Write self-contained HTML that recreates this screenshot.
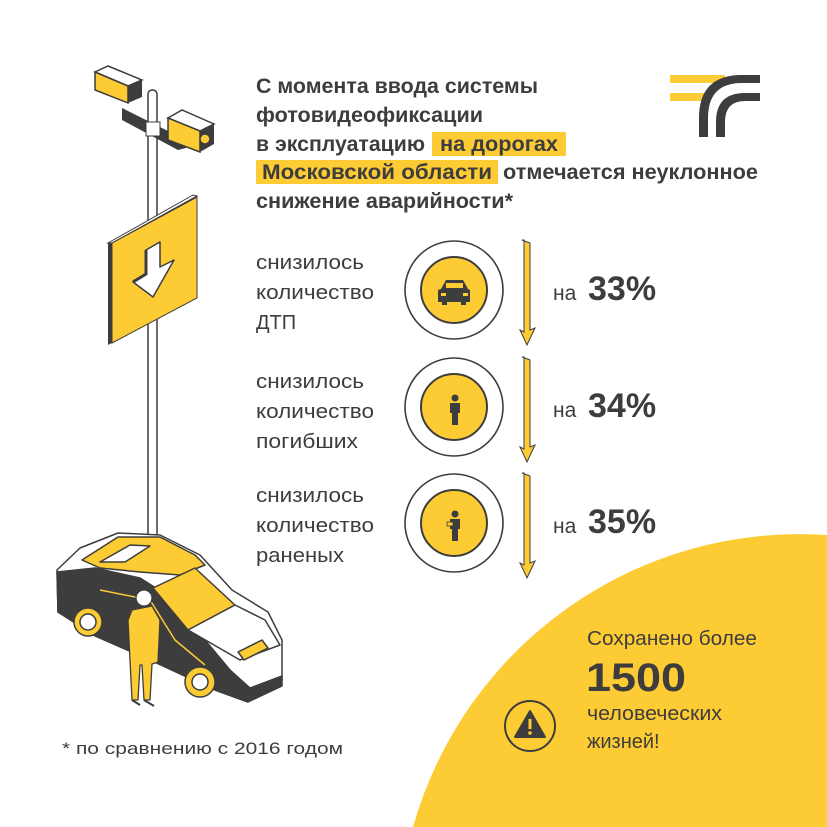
<!DOCTYPE html>
<html><head><meta charset="utf-8"><style>
html,body{margin:0;padding:0;background:#fff;width:827px;height:827px;overflow:hidden;}
svg{display:block;}
text{font-family:"Liberation Sans",sans-serif;fill:#3d3d3d;}
</style></head><body>
<svg width="827" height="827" viewBox="0 0 827 827" xmlns="http://www.w3.org/2000/svg">
<rect width="827" height="827" fill="#fff"/>
<!-- big yellow circle segment -->
<path d="M413 827 A402 402 0 0 1 827 535 L827 827 Z" fill="#fdcb33"/>

<!-- logo -->
<rect x="670" y="75" width="55" height="8" fill="#fdcb33"/>
<rect x="670" y="93" width="40" height="8" fill="#fdcb33"/>
<path d="M699 137 L699 118 Q699 75 742 75 L760 75 L760 83 L742 83 Q708 83 708 118 L708 137 Z" fill="#3d3d3d"/>
<path d="M716 137 L716 122 Q716 93 745 93 L760 93 L760 101 L745 101 Q725 101 725 122 L725 137 Z" fill="#3d3d3d"/>

<!-- heading -->
<rect x="432" y="132" width="134" height="24" fill="#fdcb33"/>
<rect x="256" y="160" width="242" height="24" fill="#fdcb33"/>
<g font-weight="bold" font-size="21">
<text x="256" y="93" textLength="282" lengthAdjust="spacingAndGlyphs">С момента ввода системы</text>
<text x="256" y="122" textLength="227" lengthAdjust="spacingAndGlyphs">фотовидеофиксации</text>
<text x="256" y="151" textLength="169" lengthAdjust="spacingAndGlyphs">в эксплуатацию</text>
<text x="440" y="151" textLength="118" lengthAdjust="spacingAndGlyphs">на дорогах</text>
<text x="262" y="179" textLength="230" lengthAdjust="spacingAndGlyphs">Московской  области</text>
<text x="503" y="179" textLength="255" lengthAdjust="spacingAndGlyphs">отмечается неуклонное</text>
<text x="256" y="208" textLength="257" lengthAdjust="spacingAndGlyphs">снижение аварийности*</text>
</g>

<!-- stat labels -->
<g font-size="20" fill="#444">
<text x="256" y="269" textLength="108" lengthAdjust="spacingAndGlyphs">снизилось</text>
<text x="256" y="299" textLength="118" lengthAdjust="spacingAndGlyphs">количество</text>
<text x="256" y="329">ДТП</text>
<text x="256" y="388" textLength="108" lengthAdjust="spacingAndGlyphs">снизилось</text>
<text x="256" y="418" textLength="118" lengthAdjust="spacingAndGlyphs">количество</text>
<text x="256" y="448" textLength="102" lengthAdjust="spacingAndGlyphs">погибших</text>
<text x="256" y="502" textLength="108" lengthAdjust="spacingAndGlyphs">снизилось</text>
<text x="256" y="532" textLength="118" lengthAdjust="spacingAndGlyphs">количество</text>
<text x="256" y="562" textLength="88" lengthAdjust="spacingAndGlyphs">раненых</text>
</g>

<!-- circles -->
<g stroke="#3d3d3d" stroke-width="1.6">
<circle cx="454" cy="290" r="49" fill="#fff"/>
<circle cx="454" cy="290" r="33" fill="#fdcb33" stroke-width="2"/>
<circle cx="454" cy="407" r="49" fill="#fff"/>
<circle cx="454" cy="407" r="33" fill="#fdcb33" stroke-width="2"/>
<circle cx="454" cy="523" r="49" fill="#fff"/>
<circle cx="454" cy="523" r="33" fill="#fdcb33" stroke-width="2"/>
</g>
<g fill="#3d3d3d">
<path d="M441 289 L446 280 L463 280 L468 289 L470 290 L470 302 L466 302 L466 305 L461 305 L461 302 L447 302 L447 305 L442 305 L442 302 L438 302 L438 290 Z"/>
<rect x="446" y="283" width="17" height="5" fill="#fdcb33"/>
<rect x="441" y="293" width="5" height="3" fill="#fdcb33"/>
<rect x="463" y="293" width="5" height="3" fill="#fdcb33"/>
</g>
<g fill="#3d3d3d">
<circle cx="455" cy="398" r="3.5"/>
<path d="M450 403 L460 403 L460 413 L458 413 L458 425 L452 425 L452 413 L450 413 Z"/>
<circle cx="455" cy="514" r="3.5"/>
<path d="M450 519 L460 519 L460 529 L458 529 L458 541 L452 541 L452 529 L450 529 Z"/>
<rect x="447" y="522" width="6" height="4" fill="#fdcb33" stroke="#3d3d3d" stroke-width="0.8"/>
</g>

<!-- down arrows -->
<g fill="#fdcb33" stroke="#3d3d3d" stroke-width="1">
<path d="M522 240 L530 243 L530 330 L535 328 L527 345 L520 330 L524 332 L524 240 Z"/>
<path d="M522 357 L530 360 L530 447 L535 445 L527 462 L520 447 L524 449 L524 357 Z"/>
<path d="M522 473 L530 476 L530 563 L535 561 L527 578 L520 563 L524 565 L524 473 Z"/>
</g>

<g>
<text x="553" y="300" font-size="21">на</text><text x="588" y="300" font-size="34" font-weight="bold">33%</text>
<text x="553" y="417" font-size="21">на</text><text x="588" y="417" font-size="34" font-weight="bold">34%</text>
<text x="553" y="533" font-size="21">на</text><text x="588" y="533" font-size="34" font-weight="bold">35%</text>
</g>

<text x="587" y="645" font-size="20" textLength="170" lengthAdjust="spacingAndGlyphs">Сохранено более</text>
<text x="586" y="691" font-size="40" font-weight="bold" textLength="100" lengthAdjust="spacingAndGlyphs">1500</text>
<text x="587" y="720" font-size="20" textLength="135" lengthAdjust="spacingAndGlyphs">человеческих</text>
<text x="587" y="748" font-size="20">жизней!</text>
<circle cx="530" cy="726" r="25" fill="none" stroke="#3d3d3d" stroke-width="2"/>
<path d="M530 711 L545 737 L515 737 Z" fill="#3d3d3d" stroke="#3d3d3d" stroke-width="2" stroke-linejoin="round"/>
<rect x="528.5" y="719" width="3" height="10" fill="#fdcb33"/>
<circle cx="530" cy="733" r="1.8" fill="#fdcb33"/>

<text x="62" y="754" font-size="17" fill="#333" textLength="281" lengthAdjust="spacingAndGlyphs">* по сравнению с 2016 годом</text>

<!-- pole -->
<rect x="148" y="90" width="9" height="450" rx="4" fill="#fff" stroke="#3d3d3d" stroke-width="1.5"/>
<path d="M122 108 L130 112 L186 140 L186 148 L178 150 L122 120 Z" fill="#3d3d3d"/>
<rect x="146" y="122" width="14" height="14" fill="#fff" stroke="#3d3d3d" stroke-width="1"/>
<path d="M95 72 L108 66 L142 80 L128 86 Z" fill="#fff" stroke="#3d3d3d" stroke-width="1.5"/>
<path d="M95 72 L128 86 L128 103 L95 90 Z" fill="#fdcb33" stroke="#3d3d3d" stroke-width="1.5"/>
<path d="M128 86 L142 80 L142 97 L128 103 Z" fill="#3d3d3d"/>
<path d="M168 118 L182 110 L214 124 L200 131 Z" fill="#fff" stroke="#3d3d3d" stroke-width="1.5"/>
<path d="M168 118 L200 131 L200 152 L168 140 Z" fill="#fdcb33" stroke="#3d3d3d" stroke-width="1.5"/>
<path d="M200 131 L214 124 L214 144 L200 152 Z" fill="#3d3d3d"/>
<circle cx="205" cy="139" r="5" fill="#fdcb33" stroke="#3d3d3d" stroke-width="1.5"/>

<!-- sign -->
<path d="M108 243 L197 195 L197 298 L108 345 Z" fill="#3d3d3d"/>
<path d="M112 243 L197 197 L197 298 L112 343 Z" fill="#fdcb33" stroke="#3d3d3d" stroke-width="1"/>
<path d="M108 243 L193 195 L197 196 L112 243 Z" fill="#fff" stroke="#3d3d3d" stroke-width="1"/>
<path d="M146 250 L160 242 L160 267 L174 260 L153 297 L133 282 L146 274 Z" fill="#fff" stroke="#3d3d3d" stroke-width="1.5" stroke-linejoin="round"/>
<path d="M146 250 L146 274 L133 282 L136 280" fill="none" stroke="#3d3d3d" stroke-width="3"/>

<!-- car -->
<g stroke="#3d3d3d" stroke-width="1.5" stroke-linejoin="round">
<path d="M57 570 L80 548 L118 533 L160 535 L200 555 L232 590 L268 612 L282 640 L282 680 L248 702 L215 690 L150 660 L95 635 L58 612 Z" fill="#fff"/>
<path d="M57 572 L95 568 L140 578 L175 600 L205 640 L230 670 L250 688 L282 676 L282 686 L248 702 L215 690 L150 660 L95 636 L58 612 Z" fill="#3d3d3d"/>
<path d="M82 560 L118 537 L160 537 L195 555 L205 565 L180 575 L140 572 L100 568 Z" fill="#fdcb33"/>
<path d="M100 562 L130 545 L150 546 L125 562 Z" fill="#fff"/>
<path d="M153 588 L195 568 L235 605 L188 630 Z" fill="#fdcb33"/>
<path d="M188 630 L235 605 L265 620 L280 645 L240 660 Z" fill="#fff"/>
<path d="M238 652 L262 640 L268 648 L244 660 Z" fill="#fdcb33"/>
<path d="M100 590 L150 600 L175 640 L205 665" fill="none" stroke="#fdcb33"/>
<circle cx="88" cy="622" r="14" fill="#fdcb33"/>
<circle cx="88" cy="622" r="8" fill="#fff"/>
<circle cx="200" cy="682" r="15" fill="#fdcb33"/>
<circle cx="200" cy="682" r="8" fill="#fff"/>
</g>
<g stroke="#3d3d3d" stroke-width="1.3" stroke-linejoin="round">
<circle cx="144" cy="598" r="8" fill="#fff"/>
<path d="M132 610 L152 606 L160 620 L158 662 L152 664 L150 700 L144 700 L142 665 L140 665 L138 700 L132 700 L130 660 L128 620 Z" fill="#fdcb33"/>
<path d="M132 700 L140 705 M144 700 L154 706" stroke-width="2"/>
</g>
</svg>
</body></html>
